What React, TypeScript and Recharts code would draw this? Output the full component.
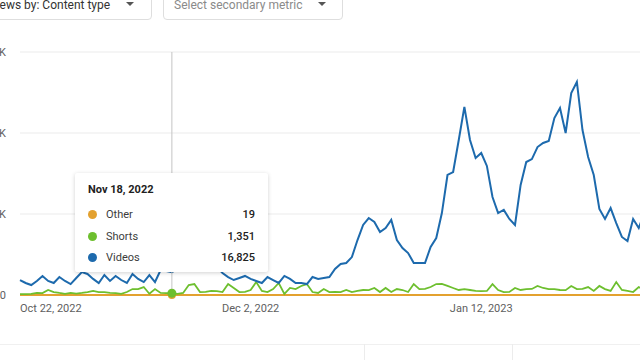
import React from "react";
import { LineChart, Line, XAxis, YAxis, CartesianGrid, Tooltip } from "recharts";

const MONTHS = ["Jan", "Feb", "Mar", "Apr", "May", "Jun", "Jul", "Aug", "Sep", "Oct", "Nov", "Dec"];
const START_DATE = new Date(2022, 9, 22);

const videos = [
  11100, 8900, 7400, 10400, 14100, 10400, 8900, 13300, 10400, 8100,
  12600, 17000, 15600, 11900, 8900, 14800, 10400, 14100, 11100, 8900,
  15600, 11900, 9600, 14800, 9600, 18500, 17800, 16825, 19300, 20700,
  18500, 21500, 20000, 22200, 19300, 20700, 16300, 13300, 11100, 12600,
  14100, 11900, 10400, 8900, 13300, 11100, 8900, 14100, 11900, 8900,
  8900, 8100, 13300, 11900, 12600, 13300, 19300, 23000, 23700, 28100,
  40700, 51900, 57000, 54100, 46700, 49600, 55600, 40700, 34800, 31100,
  23700, 23700, 23700, 35600, 42200, 60700, 88900, 91100, 114800, 139300,
  114800, 101500, 105200, 95600, 72600, 60700, 63000, 56300, 51900, 81500,
  98500, 100700, 109600, 112600, 114100, 131100, 138500, 120000, 149600, 157800,
  122200, 102200, 88900, 63700, 56300, 64400, 53300, 43000, 40000, 56300,
  49600, 60700, 66700,
];

const shorts = [
  700, 700, 800, 1500, 1400, 3700, 2200, 1500, 900, 1500,
  1000, 1500, 2200, 3000, 2200, 2100, 1500, 1400, 900, 2200,
  4400, 4300, 5900, 900, 4400, 1500, 1400, 1351, 800, 1500,
  7400, 8100, 2200, 2300, 3000, 2900, 2200, 8100, 5200, 2200,
  2300, 3700, 9600, 3000, 2200, 4400, 8900, 800, 5200, 4400,
  6700, 8100, 2200, 1500, 4400, 2200, 2300, 2200, 3700, 2200,
  3000, 3700, 3600, 5200, 2200, 5200, 2200, 4400, 3700, 2200,
  8100, 4400, 4500, 5900, 8100, 8200, 6700, 5200, 3700, 4400,
  3700, 3000, 2900, 3000, 8100, 3700, 2200, 2300, 5200, 3700,
  4400, 4500, 6700, 5200, 4400, 4300, 3700, 3600, 6700, 4400,
  4500, 5900, 3000, 6700, 4400, 3000, 9600, 3700, 3000, 2200,
  5900, 3700, 3000,
];

const other = [
  14, 21, 9, 17, 25, 12, 18, 22, 11, 16,
  20, 27, 15, 13, 19, 24, 10, 18, 21, 14,
  26, 17, 12, 23, 15, 20, 16, 19, 22, 13,
  18, 25, 11, 17, 21, 14, 20, 24, 12, 16,
  19, 23, 15, 13, 22, 18, 10, 21, 17, 14,
  25, 19, 12, 16, 23, 20, 15, 28, 31, 24,
  33, 38, 29, 35, 27, 30, 36, 26, 22, 19,
  18, 21, 24, 30, 34, 41, 45, 39, 52, 48,
  43, 40, 37, 35, 31, 28, 33, 29, 27, 36,
  42, 39, 44, 47, 41, 50, 46, 43, 53, 49,
  44, 38, 35, 30, 27, 32, 26, 24, 22, 28,
  25, 30, 27,
];

const yTicks = [0, 60000, 120000, 180000];
const xTickIdx = [0, 41, 82];

const COLORS = { other: "#e3a12f", shorts: "#6dbf2e", videos: "#1d6aad" };
const FONT = "Roboto, 'Noto Sans', sans-serif";

function fmtDate(i: number) {
  const d = new Date(START_DATE.getFullYear(), START_DATE.getMonth(), START_DATE.getDate() + i);
  return `${MONTHS[d.getMonth()]} ${d.getDate()}, ${d.getFullYear()}`;
}

const dates = videos.map((_, i) => fmtDate(i));
const data = dates.map((date, i) => ({
  date,
  other: other[i],
  shorts: shorts[i],
  videos: videos[i],
}));

const NAMES: Record<string, string> = { other: "Other", shorts: "Shorts", videos: "Videos" };

function XTick(props: any) {
  const { x, y, payload } = props;
  const first = payload.value === dates[0];
  return (
    <text x={x} y={y} dy="0.71em" textAnchor={first ? "start" : "middle"} fill="#606060" fontSize={11} fontFamily={FONT}>
      {payload.value}
    </text>
  );
}

function TipBox(props: any) {
  const { active, payload, label } = props;
  if (!active || !payload || !payload.length) return null;
  return (
    <div
      style={{
        width: 193,
        height: 99,
        boxSizing: "border-box",
        padding: "10px 13px 0 13px",
        background: "#fff",
        borderRadius: 2,
        boxShadow: "0 1px 4px rgba(0,0,0,0.18)",
        fontFamily: FONT,
        color: "#212121",
      }}
    >
      <div style={{ fontSize: 11, fontWeight: 700, lineHeight: "14px" }}>{label}</div>
      <div style={{ marginTop: 7 }}>
        {payload.map((p: any) => (
          <div key={p.dataKey} style={{ display: "flex", alignItems: "center", height: 21.5, fontSize: 11 }}>
            <span style={{ width: 9, height: 9, borderRadius: "50%", background: p.color, marginRight: 9 }} />
            <span style={{ flex: 1, color: "#3c3c3c" }}>{NAMES[p.dataKey]}</span>
            <span style={{ fontWeight: 500 }}>{Number(p.value).toLocaleString("en-US")}</span>
          </div>
        ))}
      </div>
    </div>
  );
}

function Dropdown({ left, width, text, color, textLeft, arrowLeft }: any) {
  return (
    <>
      <div
        style={{
          position: "absolute",
          left,
          top: -12,
          width,
          height: 32,
          boxSizing: "border-box",
          border: "1px solid #dedede",
          borderRadius: 4,
        }}
      />
      <div style={{ position: "absolute", left: textLeft, top: -2, fontSize: 12, lineHeight: "14px", color, fontFamily: FONT, whiteSpace: "nowrap" }}>
        {text}
      </div>
      <div
        style={{
          position: "absolute",
          left: arrowLeft,
          top: 2,
          width: 0,
          height: 0,
          borderLeft: "4.5px solid transparent",
          borderRight: "4.5px solid transparent",
          borderTop: "4.5px solid #555",
        }}
      />
    </>
  );
}

export default function App() {
  return (
    <div style={{ position: "absolute", left: 0, top: 0, width: 640, height: 360, overflow: "hidden", background: "#fff" }}>
      <Dropdown left={-20} width={172} text="Views by: Content type" color="#333" textLeft={-11} arrowLeft={126} />
      <Dropdown left={163} width={180} text="Select secondary metric" color="#8a8a8a" textLeft={174} arrowLeft={318} />

      <div style={{ position: "absolute", left: 0, top: 344, width: 640, height: 1, background: "#f0f0f0" }} />
      <div style={{ position: "absolute", left: 364, top: 344, width: 1, height: 16, background: "#ececec" }} />
      <div style={{ position: "absolute", left: 512, top: 344, width: 1, height: 16, background: "#ececec" }} />

      <div style={{ position: "absolute", left: -30, top: 0 }}>
        <LineChart width={680} height={360} data={data} margin={{ top: 52, right: 0, bottom: 0, left: 0 }}>
          <CartesianGrid vertical={false} stroke="#ebebeb" />
          <XAxis
            dataKey="date"
            ticks={xTickIdx.map((i) => dates[i])}
            interval={0}
            axisLine={false}
            tickLine={false}
            tickSize={0}
            tickMargin={9}
            height={65}
            tick={<XTick />}
          />
          <YAxis
            width={50}
            domain={[0, 180000]}
            ticks={yTicks}
            axisLine={false}
            tickLine={false}
            tickSize={0}
            tickMargin={14}
            tickFormatter={(v: number) => (v === 0 ? "0" : `${v / 1000}K`)}
            tick={{ fill: "#606060", fontSize: 11, fontFamily: FONT }}
          />
          <Tooltip
            content={<TipBox />}
            defaultIndex={27}
            active
            position={{ x: 105, y: 173 }}
            isAnimationActive={false}
            cursor={{ stroke: "#c4c4c4", strokeWidth: 1 }}
            wrapperStyle={{ outline: "none" }}
          />
          <Line type="linear" dataKey="other" stroke={COLORS.other} strokeWidth={2} dot={false} activeDot={{ r: 4, fill: COLORS.other, stroke: "none" }} isAnimationActive={false} />
          <Line type="linear" dataKey="shorts" stroke={COLORS.shorts} strokeWidth={1.8} dot={false} activeDot={{ r: 4.5, fill: COLORS.shorts, stroke: "none" }} isAnimationActive={false} />
          <Line type="linear" dataKey="videos" stroke={COLORS.videos} strokeWidth={2} dot={false} activeDot={false} isAnimationActive={false} />
        </LineChart>
      </div>
    </div>
  );
}
